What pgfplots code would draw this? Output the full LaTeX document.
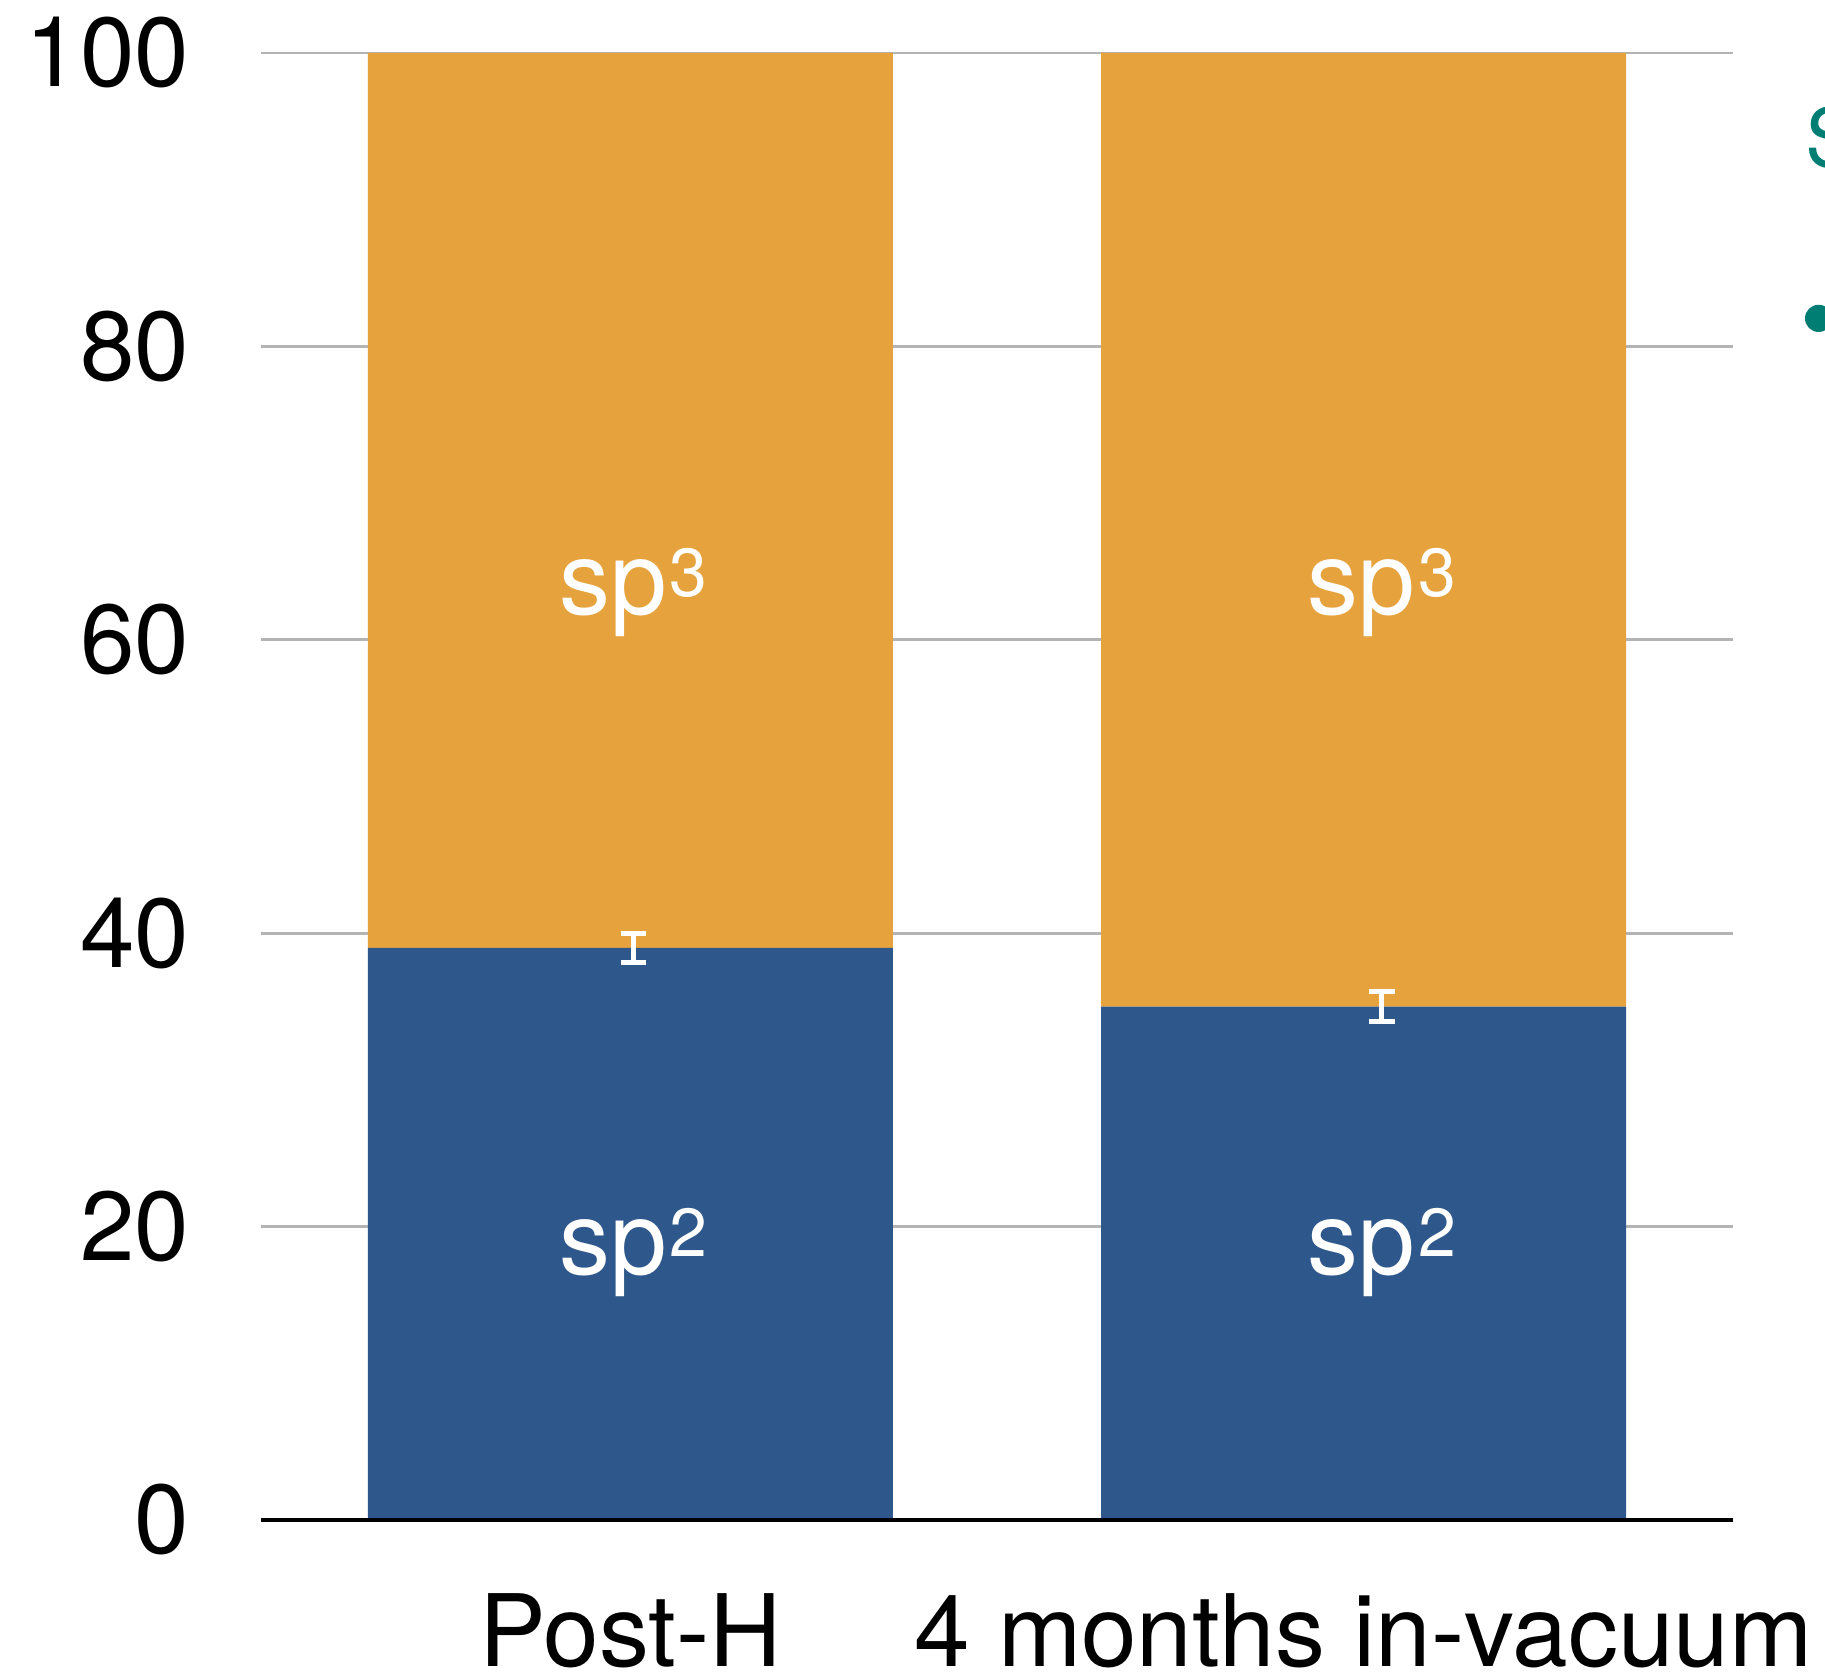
\documentclass[border=0pt]{standalone}
\usepackage{pgfplots}
\pgfplotsset{compat=1.18}
\usepackage{fontspec}
\setmainfont{TeX Gyre Heros}

\definecolor{sptwo}{HTML}{2E588B}
\definecolor{spthree}{HTML}{E6A23C}
\definecolor{legteal}{HTML}{007E73}
\definecolor{gridgray}{HTML}{B4B4B4}

% common frame shared by the bar axis and the overlay axis
\pgfplotsset{
  hybframe/.style={
    scale only axis, width=368pt, height=366.75pt,
    at={(0pt,0pt)}, anchor=south west,
    xmin=-0.504, xmax=1.504, ymin=0, ymax=100,
  }
}

% label "sp" with superscript hybridisation number
\newcommand{\hyb}[1]{\fontsize{25.5}{28}\selectfont sp\kern0.8pt\raisebox{4.5pt}{\fontsize{17}{19}\selectfont #1}}

\begin{document}
\begin{tikzpicture}
\useasboundingbox (-65.25pt,-39.75pt) rectangle (391pt,380pt);
\clip (-65.25pt,-39.75pt) rectangle (391pt,380pt);

\begin{axis}[hybframe,
  ybar stacked, bar width=131.25pt,
  axis x line*=bottom, axis y line*=left,
  x axis line style={draw=none}, y axis line style={draw=none},
  xtick={0,1}, xticklabels={Post-H, 4 months in-vacuum},
  ytick={0,20,...,100},
  tick style={draw=none},
  ymajorgrids, grid style={gridgray, line width=0.7pt},
  tick label style={font=\fontsize{24.5}{28}\selectfont},
  yticklabel style={anchor=east, inner sep=0pt, xshift=-17.8pt},
  xticklabel style={anchor=base, inner sep=0pt, yshift=-36.75pt, font=\fontsize{25}{28}\selectfont},
  /pgf/number format/assume math mode=true,
]
% sp2 fraction (%)
\addplot[fill=sptwo, draw=none] coordinates {(0,39) (1,35)};
% sp3 fraction (%)
\addplot[fill=spthree, draw=none] coordinates {(0,61) (1,65)};
\end{axis}

% overlay: baseline, error bars and segment labels on top of the bars
\begin{axis}[hybframe,
  axis x line*=bottom, axis y line=none,
  x axis line style={black, line width=0.8pt, -},
  xtick=\empty, ytick=\empty,
]
\addplot[draw=none, mark=none,
  error bars/.cd, y dir=both, y explicit, error mark=-,
  error bar style={draw=white, line width=1.2pt},
  error mark options={draw=white, line width=1.2pt, mark size=3.2pt, rotate=90}]
  coordinates {(0.004,39) +- (0,1) (1.025,35) +- (0,1)};

\node[text=white, anchor=base, inner sep=0pt] at (axis cs:0.004,61.7) {\hyb{3}};
\node[text=white, anchor=base, inner sep=0pt] at (axis cs:1.025,61.7) {\hyb{3}};
\node[text=white, anchor=base, inner sep=0pt] at (axis cs:0.004,16.7) {\hyb{2}};
\node[text=white, anchor=base, inner sep=0pt] at (axis cs:1.025,16.7) {\hyb{2}};
\end{axis}

% legend entry at the right edge
\node[anchor=base west, inner sep=0pt, text=legteal, font=\fontsize{20.4}{24}\selectfont] at (386pt,338pt) {S};
\fill[legteal] (389.4pt,300.4pt) circle (3.4pt);
\end{tikzpicture}
\end{document}
